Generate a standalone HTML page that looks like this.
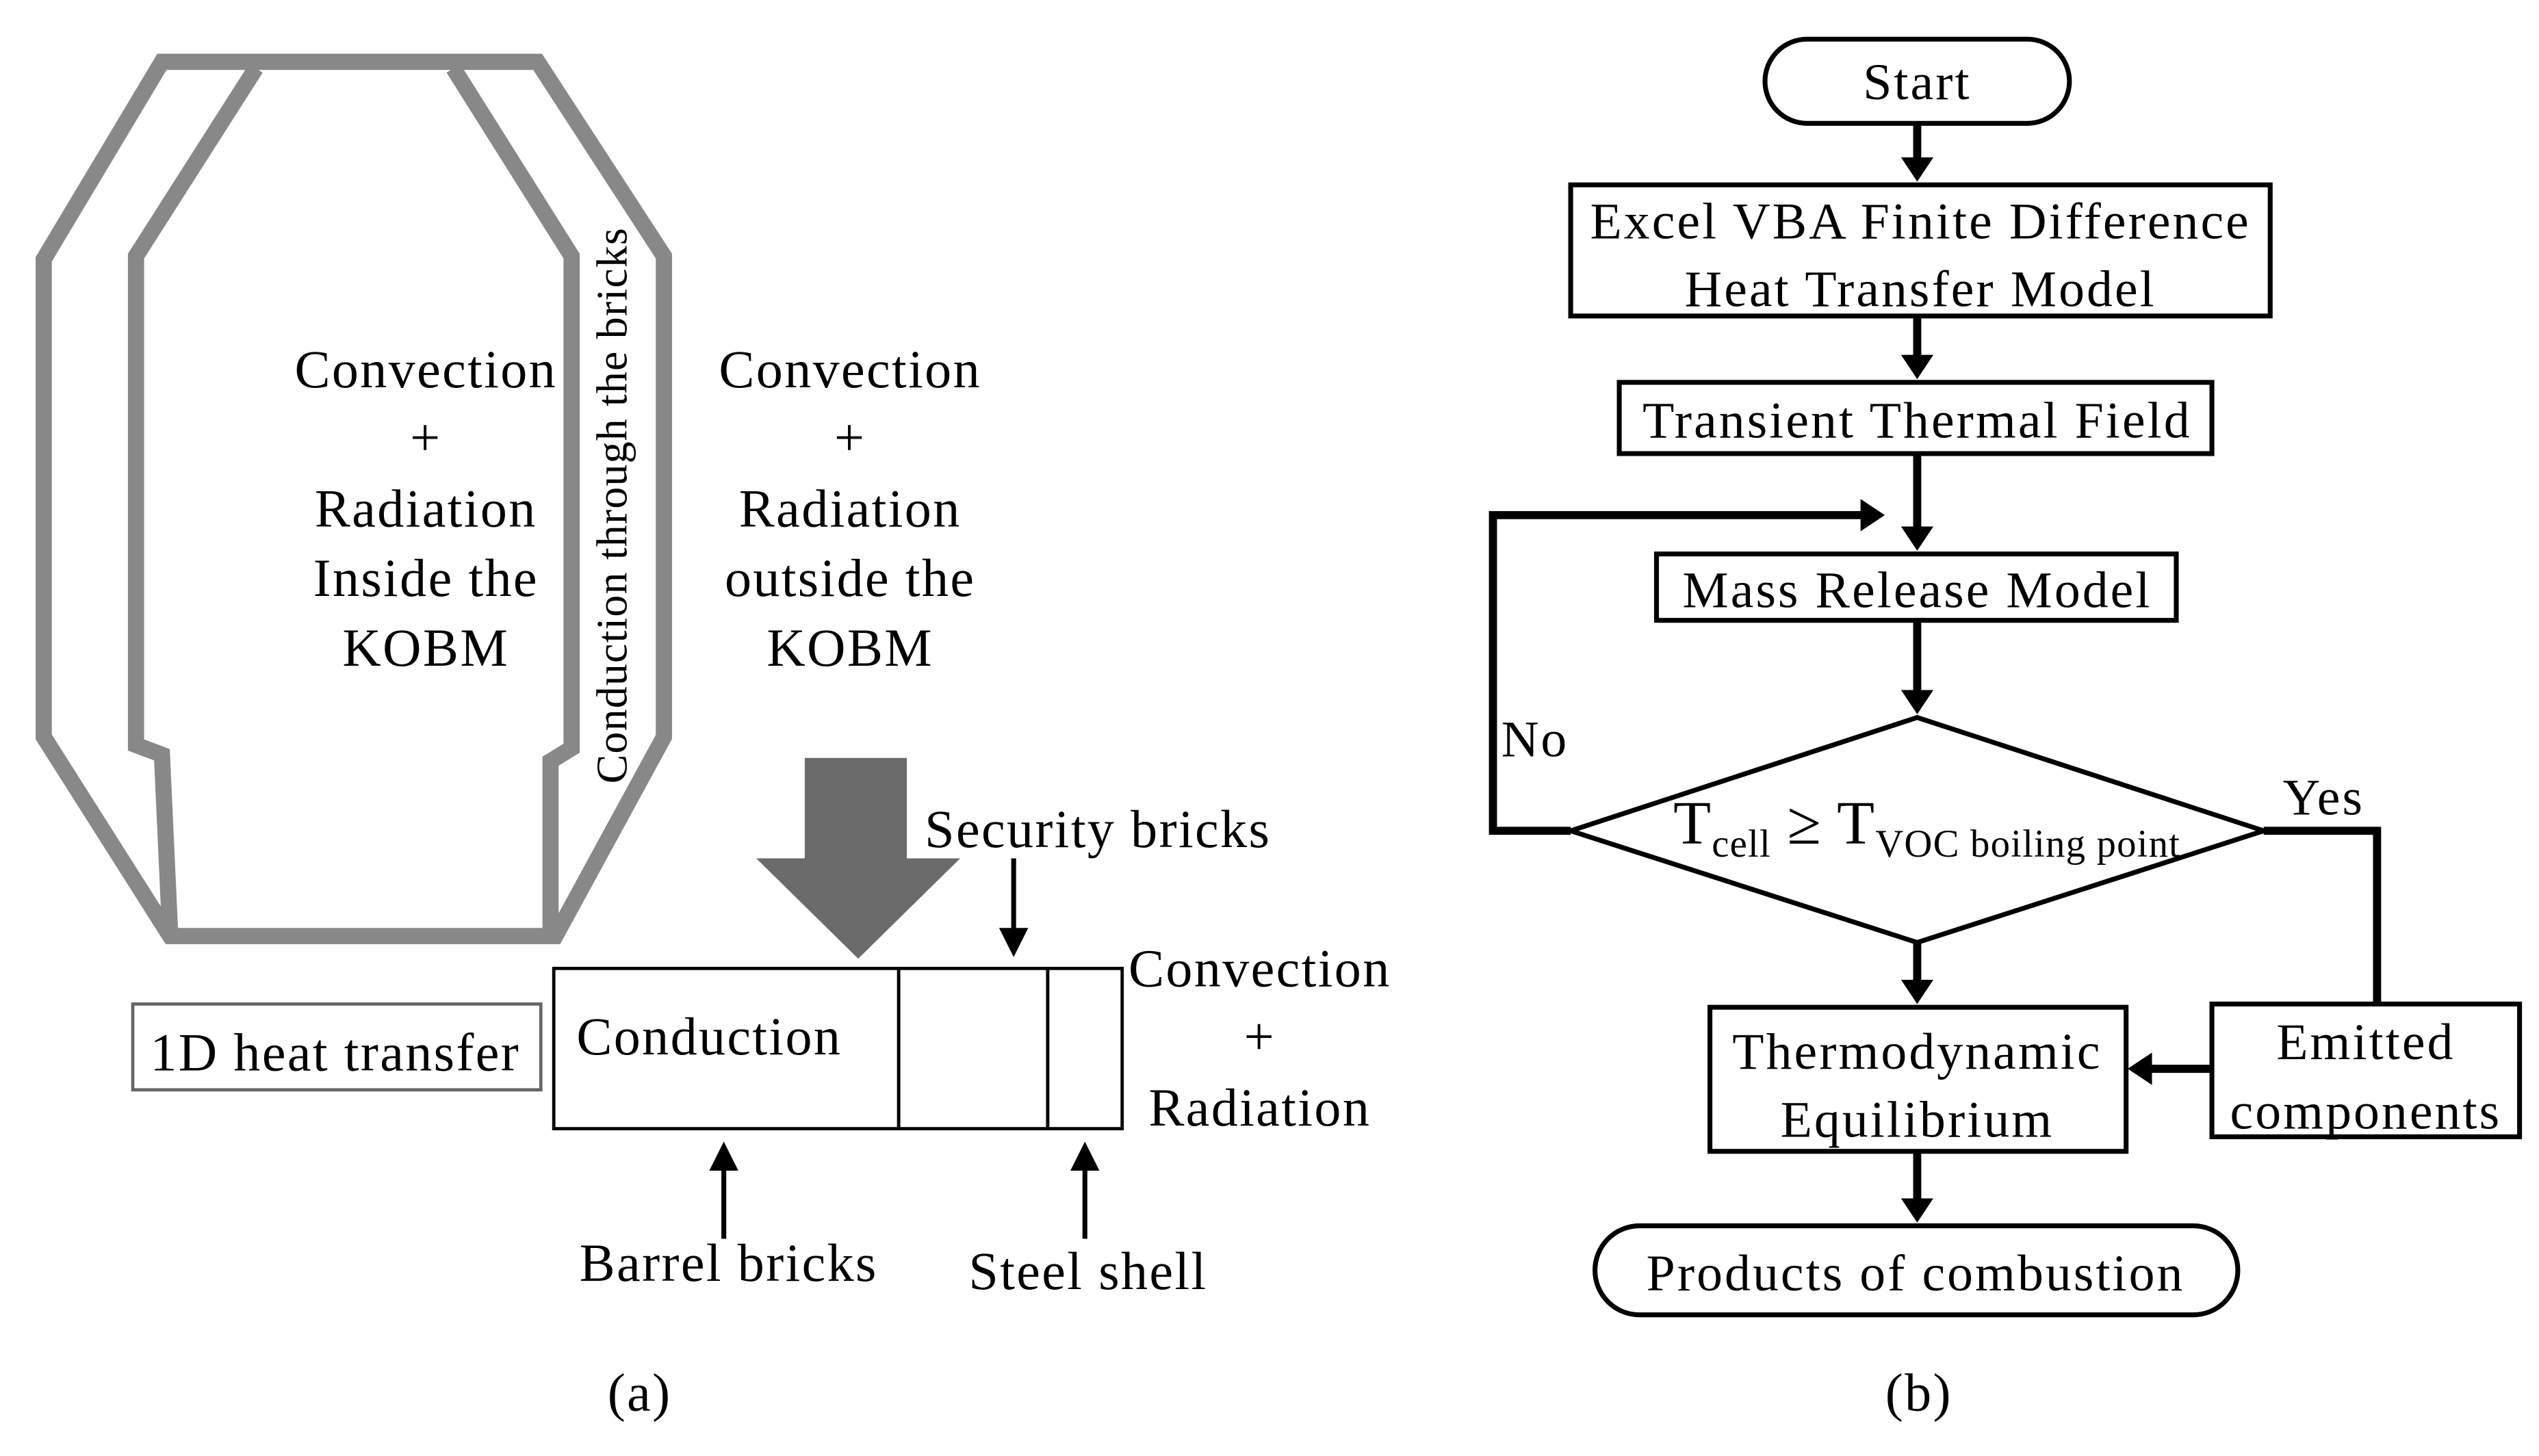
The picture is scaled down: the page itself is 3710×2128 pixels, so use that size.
<!DOCTYPE html>
<html><head><meta charset="utf-8"><style>html,body{margin:0;padding:0;background:#fff}svg{display:block}</style></head>
<body>
<svg width="3710" height="2128" viewBox="0 0 1568 899" xmlns="http://www.w3.org/2000/svg" font-family="Liberation Serif, serif">
<rect width="1568" height="899" fill="#fff"/>
<defs>
<marker id="ah" markerWidth="4" markerHeight="4" refX="2.2" refY="2" orient="auto" markerUnits="strokeWidth"><path d="M0,0 L3,2 L0,4 z" fill="#000"/></marker>
<marker id="as" markerWidth="6" markerHeight="6" refX="5" refY="3" orient="auto" markerUnits="strokeWidth"><path d="M0,0 L6,3 L0,6 z" fill="#000"/></marker>
</defs>
<g fill="none" stroke="#888" stroke-width="10" stroke-linejoin="miter">
<polygon points="100,38 332,38 410,158 410,455 343,578 105,578 27,455 27,160"/>
<polyline points="158,42 84,158 84,460 100,466 105,575"/>
<polyline points="280,42 353,158 353,462 340,470 340,575"/>
</g>
<g font-size="33" letter-spacing="1" text-anchor="middle" fill="#000">
<text x="263" y="239">Convection</text><text x="263" y="281">+</text><text x="263" y="325">Radiation</text><text x="263" y="368">Inside the</text><text x="263" y="411">KOBM</text>
<text x="525" y="239">Convection</text><text x="525" y="281">+</text><text x="525" y="325">Radiation</text><text x="525" y="368">outside the</text><text x="525" y="411">KOBM</text>
<text transform="translate(387,312) rotate(-90)" font-size="27" letter-spacing="0.5">Conduction through the bricks</text>
</g>
<polygon points="497,468 560,468 560,530 593,530 530,592 467,530 497,530" fill="#6b6b6b"/>
<g fill="none" stroke="#000" stroke-width="2">
<rect x="342" y="598" width="213" height="99"/><rect x="555" y="598" width="92" height="99"/><rect x="647" y="598" width="46" height="99"/>
</g>
<rect x="82" y="620" width="252" height="53" fill="none" stroke="#666" stroke-width="2"/>
<g font-size="33" letter-spacing="1" fill="#000" text-anchor="middle">
<text x="438" y="651">Conduction</text><text x="207" y="661">1D heat transfer</text>
<text x="778" y="609">Convection</text><text x="778" y="651">+</text><text x="778" y="695">Radiation</text>
<text x="678" y="523">Security bricks</text><text x="450" y="791">Barrel bricks</text><text x="672" y="796">Steel shell</text>
<text x="395" y="871">(a)</text><text x="1185" y="871">(b)</text>
</g>
<g stroke="#000" stroke-width="3">
<line x1="626" y1="530" x2="626" y2="588" marker-end="url(#as)"/>
<line x1="447" y1="765" x2="447" y2="708" marker-end="url(#as)"/>
<line x1="670" y1="765" x2="670" y2="708" marker-end="url(#as)"/>
</g>
<g fill="none" stroke="#000" stroke-width="3">
<rect x="1090" y="24" width="188" height="52" rx="26"/>
<rect x="970" y="114" width="432" height="81"/>
<rect x="1000" y="236" width="366" height="44"/>
<rect x="1023" y="342" width="321" height="41"/>
<polygon points="1184,443 1398,513 1184,582 970,513"/>
<rect x="1056" y="622" width="257" height="89"/>
<rect x="1366" y="620" width="190" height="82"/>
<rect x="985" y="757" width="397" height="55" rx="27.5"/>
</g>
<g stroke="#000" stroke-width="5" fill="none">
<line x1="1184" y1="76" x2="1184" y2="108" marker-end="url(#ah)"/>
<line x1="1184" y1="195" x2="1184" y2="230" marker-end="url(#ah)"/>
<line x1="1184" y1="280" x2="1184" y2="336" marker-end="url(#ah)"/>
<line x1="1184" y1="383" x2="1184" y2="437" marker-end="url(#ah)"/>
<line x1="1184" y1="582" x2="1184" y2="616" marker-end="url(#ah)"/>
<line x1="1184" y1="711" x2="1184" y2="751" marker-end="url(#ah)"/>
<polyline points="970,513 922,513 922,318 1160,318" marker-end="url(#ah)"/>
<polyline points="1398,513 1468,513 1468,620"/>
<line x1="1366" y1="660" x2="1318" y2="660" marker-end="url(#ah)"/>
</g>
<g font-size="32" letter-spacing="1.3" fill="#000" text-anchor="middle">
<text x="1186" y="147">Excel VBA Finite Difference</text><text x="1186" y="189">Heat Transfer Model</text>
<text x="1184" y="270">Transient Thermal Field</text>
<text x="1184" y="375">Mass Release Model</text>
<text x="1184" y="660">Thermodynamic</text><text x="1184" y="702">Equilibrium</text>
<text x="1461" y="654">Emitted</text><text x="1461" y="697">components</text>
<text x="1183" y="797">Products of combustion</text>
<text x="1184" y="61">Start</text>
<text x="948" y="467">No</text><text x="1435" y="503">Yes</text>
<text x="1190" y="521" font-size="38" letter-spacing="0.5">T<tspan font-size="24" dy="8">cell</tspan><tspan dy="-8"> ≥ T</tspan><tspan font-size="24" dy="8">VOC  boiling point</tspan></text>
</g>
</svg>
</body></html>
